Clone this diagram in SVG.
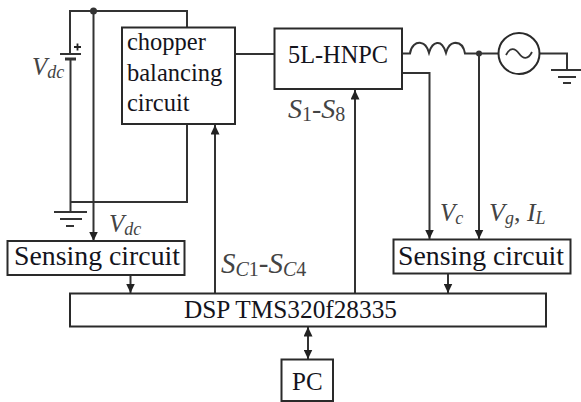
<svg xmlns="http://www.w3.org/2000/svg" width="581" height="402" viewBox="0 0 581 402">
<defs>
<marker id="a" markerUnits="userSpaceOnUse" markerWidth="10" markerHeight="9" refX="9.500" refY="4.500" orient="auto-start-reverse"><path d="M0 0L9.500 4.500L0 9Z" fill="#222"/></marker>
</defs>
<style>
.b{fill:#fff;stroke:#2a2a2a;stroke-width:2}
.w{fill:none;stroke:#333;stroke-width:2}
.t{font-family:"Liberation Serif",serif;fill:#14141c}
.m{font-family:"Liberation Serif",serif;font-style:italic;fill:#444}
.s{font-size:18px}
.n{font-size:20px;font-style:normal}
.u{font-size:20px}
</style>
<rect width="581" height="402" fill="#fff"/>
<g id="connectors">
<path class="w" d="M70 53V11H187V27"/>
<path class="w" d="M70.500 59V212"/>
<path class="w" d="M187 124V202H70.500"/>
<path class="w" d="M93.500 11V241" marker-end="url(#a)"/>
<path class="w" d="M130.500 275V293" marker-end="url(#a)"/>
<path class="w" d="M215 293V125" marker-end="url(#a)"/>
<path class="w" d="M355 293V90" marker-end="url(#a)"/>
<path class="w" d="M235 54H274"/>
<path class="w" d="M402 53.500H410C411 46 416 42 421 43C427 44 428 50 429 53C430 50 431 44 437 43C443 42 445 50 446 53C447 50 448 44 454 43C461 42 464 48 465 53.500H499"/>
<path class="w" d="M402 73H429.500V239" marker-end="url(#a)"/>
<path class="w" d="M479 53.500V239" marker-end="url(#a)"/>
<path class="w" d="M448 274V293" marker-end="url(#a)"/>
<path class="w" d="M308 327V359" marker-start="url(#a)" marker-end="url(#a)"/>
<path class="w" d="M539 53.500H567V70"/>
</g>
<g id="battery">
<path class="w" d="M60 54H81"/>
<path d="M65 59H76" stroke="#333" stroke-width="3" fill="none"/>
<path d="M74 47H81M77.500 43.500V50.500" stroke="#222" stroke-width="1.800" fill="none"/>
<text class="m" x="32" y="75" font-size="25">V<tspan class="s" dy="3">dc</tspan></text>
</g>
<g id="junction-top"><circle cx="93.500" cy="11" r="3.500" fill="#333"/></g>
<g id="junction-right"><circle cx="479" cy="53.500" r="3" fill="#333"/></g>
<g id="ground-left"><path class="w" d="M54 212H87M60 219H82M66 226H74"/></g>
<g id="ground-right"><path class="w" d="M551 70H581M558 77H576M563 83H571"/></g>
<g id="source">
<circle class="b" cx="519" cy="53.500" r="20.500"/>
<path d="M506 55C510 47 515 48 519 53.500C523 59 528 60 532 52" fill="none" stroke="#333" stroke-width="1.800"/>
</g>
<g id="chopper">
<rect class="b" x="122" y="27.500" width="113" height="96.500"/>
<text class="t" x="127" y="50" font-size="24.500">chopper</text>
<text class="t" x="127" y="80.500" font-size="24.500">balancing</text>
<text class="t" x="127" y="111" font-size="24.500">circuit</text>
</g>
<g id="hnpc">
<rect class="b" x="274.500" y="28.500" width="127.500" height="60.500"/>
<text class="t" x="288" y="63" font-size="24.300">5L-HNPC</text>
</g>
<g id="sensing-left">
<rect class="b" x="7.500" y="241" width="177" height="34"/>
<text class="t" x="14" y="265" font-size="27.800">Sensing circuit</text>
</g>
<g id="sensing-right">
<rect class="b" x="393.500" y="239.500" width="177" height="34"/>
<text class="t" x="398" y="265" font-size="27.800">Sensing circuit</text>
</g>
<g id="dsp">
<rect class="b" x="70" y="293.500" width="476" height="33"/>
<text class="t" x="184" y="318" font-size="25.300">DSP TMS320f28335</text>
</g>
<g id="pc">
<rect class="b" x="281.500" y="359.500" width="51.500" height="41.500"/>
<text class="t" x="292" y="390" font-size="25">PC</text>
</g>
<g id="labels">
<text class="m" x="288" y="118" font-size="28">S<tspan class="n" dy="3">1</tspan><tspan dy="-3" font-style="normal">-</tspan>S<tspan class="n" dy="3">8</tspan></text>
<text class="m" x="109" y="232" font-size="25">V<tspan class="s" dy="3">dc</tspan></text>
<text class="m" x="221" y="273" font-size="29">S<tspan class="u" dy="3">C</tspan><tspan class="n">1</tspan><tspan dy="-3" font-style="normal">-</tspan>S<tspan class="u" dy="3">C</tspan><tspan class="n">4</tspan></text>
<text class="m" x="440" y="220.500" font-size="25">V<tspan class="s" dy="3">c</tspan></text>
<text class="m" x="489" y="220.500" font-size="26">V<tspan class="s" dy="3">g</tspan><tspan dy="-3" font-style="normal">, </tspan>I<tspan class="s" dy="3">L</tspan></text>
</g>
</svg>
